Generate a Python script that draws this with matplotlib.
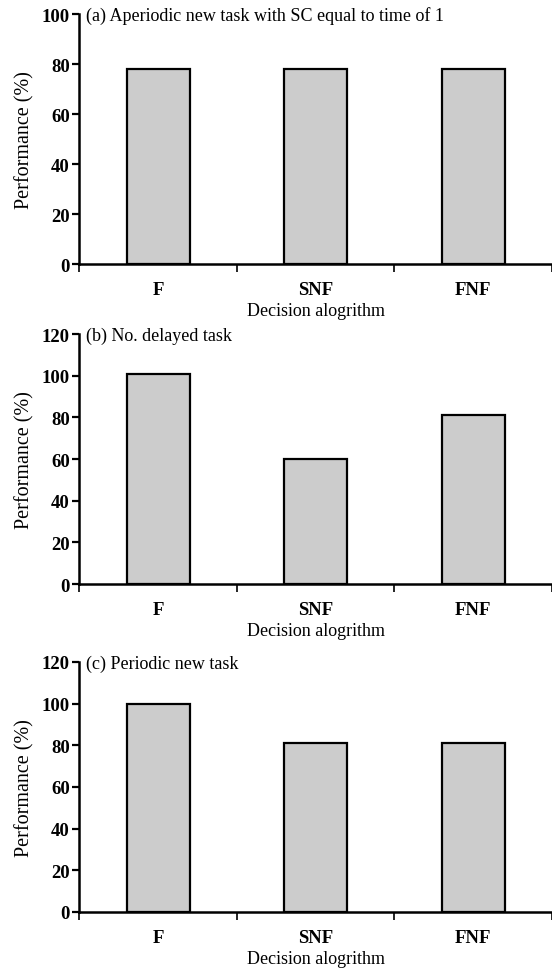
import matplotlib
matplotlib.use('Agg')
import matplotlib.pyplot as plt

# decision algorithms on the x axis
algorithms = ['F', 'SNF', 'FNF']

# performance (%)
perf_a = [78, 78, 78]
perf_b = [101, 60, 81]
perf_c = [100, 81, 81]

titles = ['(a) Aperiodic new task with SC equal to time of 1',
          '(b) No. delayed task',
          '(c) Periodic new task']
ymaxes = [100, 120, 120]

plt.rcParams['font.family'] = ['Liberation Serif', 'DejaVu Serif']
plt.rcParams['font.size'] = 13

fig = plt.figure(figsize=(5.52, 9.70), dpi=100)

# panel rectangles (left, bottom, width, height) in figure fractions
rects = [(0.144, 0.7268, 0.856, 0.2577),
         (0.144, 0.3969, 0.856, 0.2577),
         (0.144, 0.0588, 0.856, 0.2577)]

for rect, vals, title, ymax in zip(rects, [perf_a, perf_b, perf_c], titles, ymaxes):
    ax = fig.add_axes(rect)
    xs = list(range(len(algorithms)))
    ax.bar(xs, vals, width=0.4, color='#cccccc', edgecolor='black', linewidth=1.6, zorder=2)
    ax.set_xlim(-0.5, 2.5)
    ax.set_ylim(0, ymax)
    ax.set_yticks(range(0, ymax + 1, 20))
    for lab in ax.get_yticklabels():
        lab.set_fontweight('bold')
        lab.set_fontsize(13.5)

    # category boundaries get the tick marks, names sit between them
    ax.set_xticks([-0.5, 0.5, 1.5, 2.5])
    ax.set_xticklabels([])
    ax.set_xticks(xs, minor=True)
    ax.set_xticklabels(algorithms, minor=True, fontweight='bold', fontsize=13.5)
    ax.tick_params(axis='x', which='major', direction='out', length=6, width=1.2)
    ax.tick_params(axis='x', which='minor', length=0, pad=12)
    ax.tick_params(axis='y', direction='out', length=5, width=1.6, pad=2)

    for side in ['top', 'right']:
        ax.spines[side].set_visible(False)
    for side in ['left', 'bottom']:
        ax.spines[side].set_linewidth(1.8)
    ax.spines['bottom'].set_clip_on(False)

    ax.set_xlabel('Decision alogrithm', labelpad=3)
    ax.set_ylabel('Performance (%)', fontsize=14.5, labelpad=5)
    ax.text(0.014, 0.995, title, transform=ax.transAxes, ha='left', va='center')

fig.savefig('out.png', dpi=100)
